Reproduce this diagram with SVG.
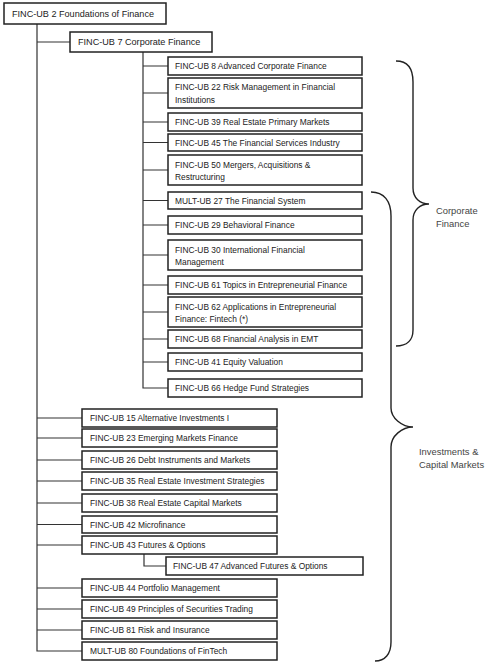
<svg xmlns="http://www.w3.org/2000/svg" width="499" height="665" viewBox="0 0 499 665">
<style>
.box{fill:#fff;stroke:#222;stroke-width:1.5}
.t{font-family:"Liberation Sans",Arial,sans-serif;font-size:8.4px;fill:#222}
.tl{font-family:"Liberation Sans",Arial,sans-serif;font-size:9.1px;fill:#222}
.lbl{font-family:"Liberation Sans",Arial,sans-serif;font-size:9.4px;fill:#444}
.c{fill:none;stroke:#333;stroke-width:1.2}
.br{fill:none;stroke:#222;stroke-width:1.4}
</style>
<rect width="499" height="665" fill="#fff"/>
<g id="connectors">
<path class="c" d="M37,24 V651 H82"/>
<path class="c" d="M37,42 H70"/>
<path class="c" d="M143,52 V388 H168"/>
<path class="c" d="M143,66 H168 M143,93 H168 M143,122 H168 M143,142.5 H168 M143,170 H168 M143,200.5 H168 M143,225 H168 M143,255 H168 M143,285 H168 M143,312 H168 M143,339 H168 M143,362 H168"/>
<path class="c" d="M37,418 H82 M37,438 H82 M37,460 H82 M37,481 H82 M37,503 H82 M37,524.5 H82 M37,545 H82 M37,588 H82 M37,609 H82 M37,630 H82"/>
<path class="c" d="M144,554 V566 H166"/>
</g>
<g id="n-root"><rect class="box" x="4" y="3" width="162" height="21"/><text class="tl" x="12" y="16.8">FINC-UB 2 Foundations of Finance</text></g>
<g id="n-ub7"><rect class="box" x="70" y="32" width="142" height="20"/><text class="tl" x="78" y="45.2">FINC-UB 7 Corporate Finance</text></g>
<g id="n-ub8"><rect class="box" x="168" y="57" width="194" height="18"/><text class="t" x="175" y="69">FINC-UB 8 Advanced Corporate Finance</text></g>
<g id="n-ub22"><rect class="box" x="168" y="78" width="194" height="30"/><text class="t" x="175" y="90.3">FINC-UB 22 Risk Management in Financial</text><text class="t" x="175" y="103">Institutions</text></g>
<g id="n-ub39"><rect class="box" x="168" y="113" width="194" height="18"/><text class="t" x="175" y="125">FINC-UB 39 Real Estate Primary Markets</text></g>
<g id="n-ub45"><rect class="box" x="168" y="134" width="194" height="17"/><text class="t" x="175" y="145.5">FINC-UB 45 The Financial Services Industry</text></g>
<g id="n-ub50"><rect class="box" x="168" y="155" width="194" height="30"/><text class="t" x="175" y="168">FINC-UB 50 Mergers, Acquisitions &amp;</text><text class="t" x="175" y="180">Restructuring</text></g>
<g id="n-mult27"><rect class="box" x="168" y="192" width="194" height="17"/><text class="t" x="175" y="203.5">MULT-UB 27 The Financial System</text></g>
<g id="n-ub29"><rect class="box" x="168" y="216" width="194" height="18"/><text class="t" x="175" y="228">FINC-UB 29 Behavioral Finance</text></g>
<g id="n-ub30"><rect class="box" x="168" y="240" width="194" height="30"/><text class="t" x="175" y="253">FINC-UB 30 International Financial</text><text class="t" x="175" y="264.5">Management</text></g>
<g id="n-ub61"><rect class="box" x="168" y="276" width="194" height="18"/><text class="t" x="175" y="288">FINC-UB 61 Topics in Entrepreneurial Finance</text></g>
<g id="n-ub62"><rect class="box" x="168" y="297" width="194" height="30"/><text class="t" x="175" y="310">FINC-UB 62 Applications in Entrepreneurial</text><text class="t" x="175" y="321.5">Finance: Fintech (*)</text></g>
<g id="n-ub68"><rect class="box" x="168" y="330" width="194" height="18"/><text class="t" x="175" y="342">FINC-UB 68 Financial Analysis in EMT</text></g>
<g id="n-ub41"><rect class="box" x="168" y="353" width="194" height="18"/><text class="t" x="175" y="365">FINC-UB 41 Equity Valuation</text></g>
<g id="n-ub66"><rect class="box" x="168" y="379" width="194" height="18"/><text class="t" x="175" y="391">FINC-UB 66 Hedge Fund Strategies</text></g>
<g id="n-ub15"><rect class="box" x="82" y="409" width="195" height="18"/><text class="t" x="90" y="421">FINC-UB 15 Alternative Investments I</text></g>
<g id="n-ub23"><rect class="box" x="82" y="429" width="195" height="18"/><text class="t" x="90" y="441">FINC-UB 23 Emerging Markets Finance</text></g>
<g id="n-ub26"><rect class="box" x="82" y="451" width="195" height="18"/><text class="t" x="90" y="463">FINC-UB 26 Debt Instruments and Markets</text></g>
<g id="n-ub35"><rect class="box" x="82" y="472" width="195" height="18"/><text class="t" x="90" y="484">FINC-UB 35 Real Estate Investment Strategies</text></g>
<g id="n-ub38"><rect class="box" x="82" y="494" width="195" height="18"/><text class="t" x="90" y="506">FINC-UB 38 Real Estate Capital Markets</text></g>
<g id="n-ub42"><rect class="box" x="82" y="516" width="195" height="17"/><text class="t" x="90" y="527.5">FINC-UB 42 Microfinance</text></g>
<g id="n-ub43"><rect class="box" x="82" y="536" width="195" height="18"/><text class="t" x="90" y="548">FINC-UB 43 Futures &amp; Options</text></g>
<g id="n-ub47"><rect class="box" x="166" y="557" width="197" height="18"/><text class="t" x="173" y="569">FINC-UB 47 Advanced Futures &amp; Options</text></g>
<g id="n-ub44"><rect class="box" x="82" y="579" width="195" height="18"/><text class="t" x="90" y="591">FINC-UB 44 Portfolio Management</text></g>
<g id="n-ub49"><rect class="box" x="82" y="600" width="195" height="18"/><text class="t" x="90" y="612">FINC-UB 49 Principles of Securities Trading</text></g>
<g id="n-ub81"><rect class="box" x="82" y="621" width="195" height="18"/><text class="t" x="90" y="633">FINC-UB 81 Risk and Insurance</text></g>
<g id="n-mult80"><rect class="box" x="82" y="642" width="195" height="18"/><text class="t" x="90" y="654">MULT-UB 80 Foundations of FinTech</text></g>
<g id="brace-corporate">
<path class="br" d="M396,61 C407,61 413,68 413,82 L413,188 C413,198 420,204 429,204 C420,204 413,210 413,220 L413,330 C413,340 407,346 396,346"/>
<text class="lbl" x="436" y="213.5">Corporate</text>
<text class="lbl" x="436" y="226.5">Finance</text>
</g>
<g id="brace-investments">
<path class="br" d="M371,192 C384,192 391,201 391,216 L391,408 C391,418 402,427 413,427 C402,427 391,436 391,447 L391,642 C391,654 385,661 375,661"/>
<text class="lbl" x="419" y="455">Investments &amp;</text>
<text class="lbl" x="419" y="468">Capital Markets</text>
</g>
</svg>
